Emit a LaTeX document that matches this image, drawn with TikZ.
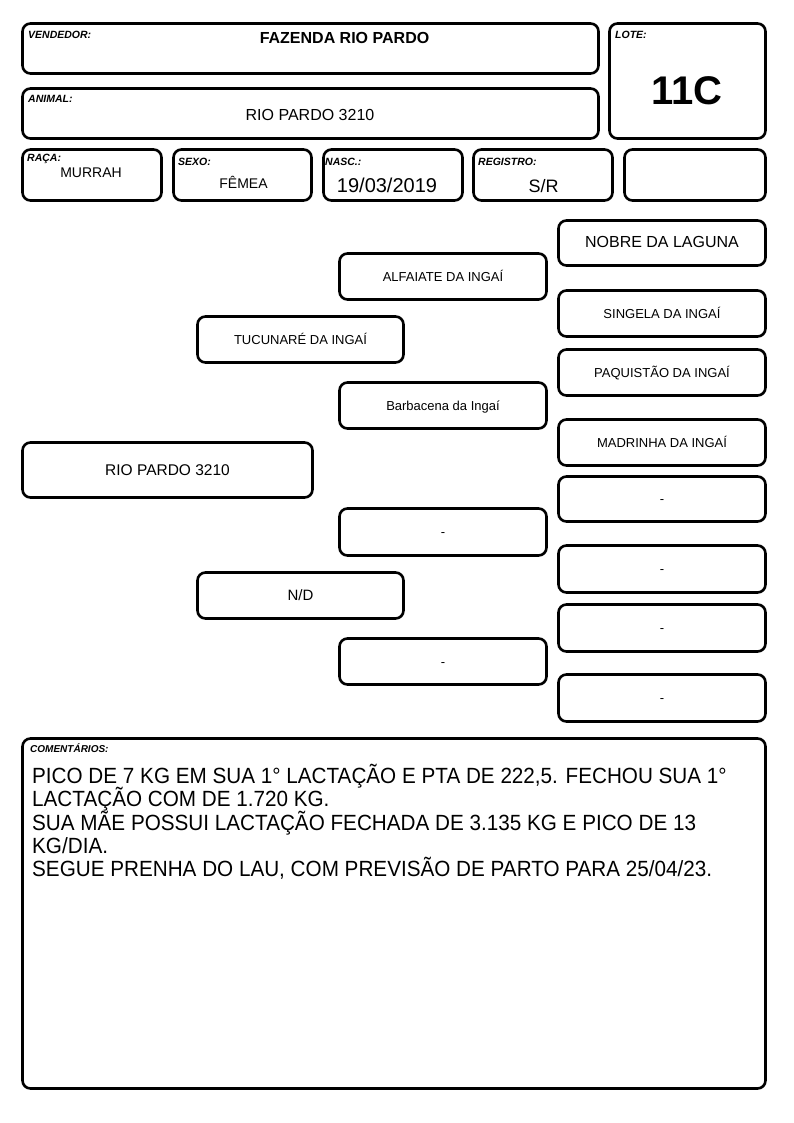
\documentclass[tikz,border=0pt]{standalone}
\usepackage{fontspec}
\setmainfont{Liberation Sans}
\newfontfamily\bodyfont[FakeStretch=0.94]{Liberation Sans}
\newcommand\fsz[1]{\fontsize{#1}{#1}\selectfont}
\begin{document}
\begin{tikzpicture}[x=1pt,y=-1pt,
  box/.style={draw, line width=2.6pt, rounded corners=8pt, inner sep=0pt, outer sep=0pt},
  lbl/.style={inner sep=0pt, anchor=base west, font=\fsz{10.5}\bfseries\itshape},
  val/.style={inner sep=0pt, anchor=base},
  ped/.style={box, font=\fsz{13}, text height=10pt, text depth=1pt},
  pedbig/.style={box, font=\fsz{15.5}, text height=11.5pt, text depth=0.5pt},
  comline/.style={inner sep=0pt, anchor=base west, font=\bodyfont\fsz{22}}]
\useasboundingbox (0,0) rectangle (794,1123);
% header boxes
\node[box, minimum width=576, minimum height=50] (vend) at (310.5,48.5) {};
\node[box, minimum width=576, minimum height=50] (anim) at (310.5,113.5) {};
\node[box, minimum width=156, minimum height=115] (lote) at (687.5,81) {};
\node[box, minimum width=139, minimum height=51] (raca) at (92,175) {};
\node[box, minimum width=138, minimum height=51] (sexo) at (242.5,175) {};
\node[box, minimum width=139, minimum height=51] (nasc) at (393,175) {};
\node[box, minimum width=139, minimum height=51] (reg) at (543,175) {};
\node[box, minimum width=141, minimum height=51] (extra) at (695,175) {};
% header texts
\node[lbl] (tvend) at (28,39) {VENDEDOR:};
\node[val, font=\fsz{16}\bfseries] (vvend) at (344.5,43.3) {FAZENDA RIO PARDO};
\node[lbl] (tanim) at (28,102.3) {ANIMAL:};
\node[val, font=\fsz{16}] (vanim) at (310,121) {RIO PARDO 3210};
\node[lbl] (tlote) at (615,39) {LOTE:};
\node[val, font=\fsz{40}\bfseries] (vlote) at (687,104.3) {11C};
\node[lbl] (traca) at (27,162) {RAÇA:};
\node[val, font=\fsz{14}] (vraca) at (91,177.7) {MURRAH};
\node[lbl] (tsexo) at (178,165.5) {SEXO:};
\node[val, font=\fsz{14}] (vsexo) at (243.5,188.3) {FÊMEA};
\node[lbl] (tnasc) at (325,165.5) {NASC.:};
\node[val, font=\fsz{20}] (vnasc) at (387,192.7) {19/03/2019};
\node[lbl] (treg) at (478,165.5) {REGISTRO:};
\node[val, font=\fsz{18}] (vreg) at (543.5,192.3) {S/R};
% pedigree
\node[pedbig, minimum width=290, minimum height=55] (p0) at (167.5,470) {RIO PARDO 3210};
\node[ped, minimum width=206, minimum height=46] (pai) at (300.5,339.5) {TUCUNARÉ DA INGAÍ};
\node[pedbig, font=\fsz{15}, text height=11.2pt, minimum width=206, minimum height=46] (mae) at (300.5,595.5) {N/D};
\node[ped, minimum width=207, minimum height=46] (avp) at (443,276.5) {ALFAIATE DA INGAÍ};
\node[ped, minimum width=207, minimum height=46] (avap) at (443,405.5) {Barbacena da Ingaí};
\node[ped, minimum width=207, minimum height=47] (avm) at (443,532) {-};
\node[ped, minimum width=207, minimum height=46] (avam) at (443,661.5) {-};
\node[pedbig, font=\fsz{16}, text height=11pt, text depth=1.6pt, minimum width=207, minimum height=45] (b1) at (662,243) {NOBRE DA LAGUNA};
\node[ped, minimum width=207, minimum height=46] (b2) at (662,313.5) {SINGELA DA INGAÍ};
\node[ped, minimum width=207, minimum height=46] (b3) at (662,372.5) {PAQUISTÃO DA INGAÍ};
\node[ped, minimum width=207, minimum height=46] (b4) at (662,442.5) {MADRINHA DA INGAÍ};
\node[ped, minimum width=207, minimum height=45] (b5) at (662,499) {-};
\node[ped, minimum width=207, minimum height=47] (b6) at (662,569) {-};
\node[ped, minimum width=207, minimum height=47] (b7) at (662,628) {-};
\node[ped, minimum width=207, minimum height=47] (b8) at (662,698) {-};
% comments
\node[box, minimum width=743, minimum height=350] (com) at (394,913.5) {};
\node[lbl, font=\fsz{10}\bfseries\itshape] (tcom) at (30,752.7) {COMENTÁRIOS:};
\node[comline] (c1) at (32,783.3) {PICO DE 7 KG EM SUA 1° LACTAÇÃO E PTA DE 222,5. FECHOU SUA 1°};
\node[comline] (c2) at (32,806.7) {LACTAÇÃO COM DE 1.720 KG.};
\node[comline] (c3) at (32,830) {SUA MÃE POSSUI LACTAÇÃO FECHADA DE 3.135 KG E PICO DE 13};
\node[comline] (c4) at (32,853.3) {KG/DIA.};
\node[comline] (c5) at (32,876.7) {SEGUE PRENHA DO LAU, COM PREVISÃO DE PARTO PARA 25/04/23.};
\end{tikzpicture}
\end{document}
